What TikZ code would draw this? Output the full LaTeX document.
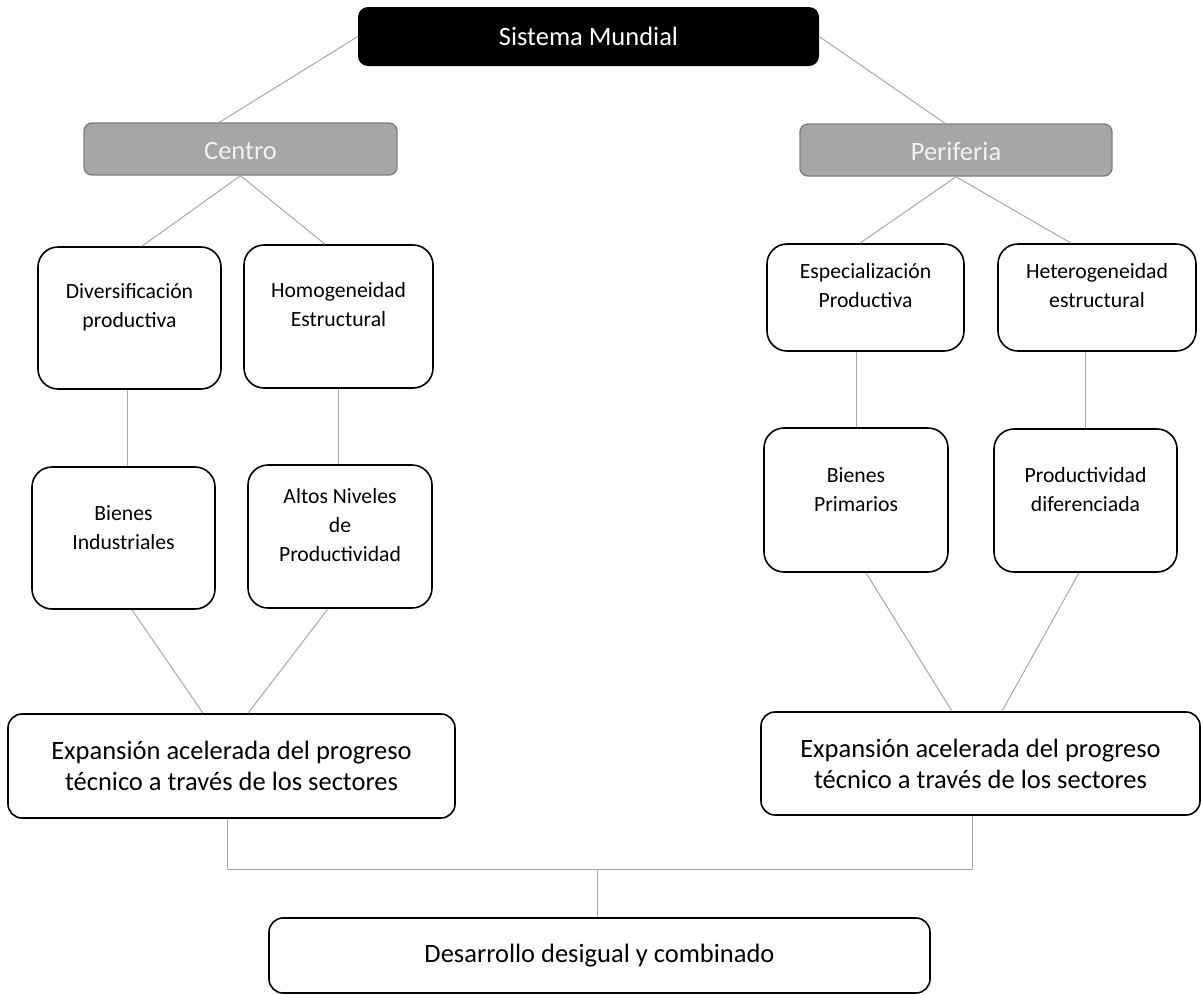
\documentclass[tikz,border=0pt]{standalone}
\usepackage{fontspec}
\setmainfont{Carlito}
\definecolor{boxgray}{RGB}{166,166,166}
\definecolor{edgegray}{RGB}{128,128,128}
\definecolor{linkgray}{RGB}{168,168,168}
\tikzset{
    cell/.style={draw,line width=1.6pt,rounded corners=20pt,align=center,inner sep=0pt,
        font=\fontsize{21.7}{29}\selectfont},
    wide/.style={draw,line width=1.6pt,rounded corners=14pt,align=center,inner sep=0pt,
        font=\fontsize{26.5}{31}\selectfont},
    head/.style={fill=boxgray,draw=edgegray,line width=1.4pt,rounded corners=8pt,inner sep=0pt,
        text=white!95!black,font=\fontsize{26.5}{31}\selectfont,text height=36pt,text depth=16pt},
    link/.style={draw=linkgray,line width=1pt},
}

\begin{document}
\begin{tikzpicture}[x=1pt,y=-1pt]
                \useasboundingbox (0,0) rectangle (1201,994);

                % Top levels
                \node[fill=black,text=white,rounded corners=10pt,minimum width=461pt,minimum height=59pt,
                      font=\fontsize{26.5}{31}\selectfont] (sistema) at (588.5,36.5) {Sistema Mundial};
                \node[head,minimum width=313pt] (centro) at (240.5,149) {Centro};
                \node[head,minimum width=312pt] (periferia) at (956,150) {Periferia};

                % Centro branch
                \node[cell,minimum width=183pt,text height=80pt,text depth=62pt] (divers) at (129.5,318) {Diversificación\\productiva};
                \node[cell,minimum width=189pt,text height=81pt,text depth=62pt] (homog) at (338.5,316.5) {Homogeneidad\\Estructural};
                \node[cell,minimum width=183pt,text height=82pt,text depth=60pt] (bind) at (123.5,538) {Bienes\\Industriales};
                \node[cell,minimum width=184pt,text height=96pt,text depth=47pt] (altos) at (340,536.5) {Altos Niveles\\de\\Productividad};

                % Periferia branch
                \node[cell,minimum width=197pt,text height=63pt,text depth=44pt] (espec) at (865.5,297.5) {Especialización\\Productiva};
                \node[cell,minimum width=198pt,text height=63pt,text depth=44pt] (heter) at (1097,297.5) {Heterogeneidad\\estructural};
                \node[cell,minimum width=184pt,text height=83pt,text depth=61pt] (bprim) at (856,500) {Bienes\\Primarios};
                \node[cell,minimum width=183pt,text height=82pt,text depth=61pt] (prodif) at (1085.5,500.5) {Productividad\\diferenciada};

                % Results
                \node[wide,minimum width=447pt,minimum height=104pt] (expl) at (231.5,766) {Expansión acelerada del progreso\\técnico a través de los sectores};
                \node[wide,minimum width=439pt,minimum height=103pt] (expr) at (980.5,763.5) {Expansión acelerada del progreso\\técnico a través de los sectores};
                \node[wide,minimum width=661pt,minimum height=75pt] (desarrollo) at (599.5,955.5) {Desarrollo desigual y combinado};

                % Connections
                \draw[link] (sistema.west) -- ([xshift=-21pt]centro.north);
                \draw[link] (sistema.east) -- ([xshift=-11pt]periferia.north);
                \draw[link] (centro.south) -- ([xshift=12.5pt]divers.north);
                \draw[link] (centro.south) -- ([xshift=-13.5pt]homog.north);
                \draw[link] (periferia.south) -- ([xshift=-5.5pt]espec.north);
                \draw[link] (periferia.south) -- ([xshift=-26pt]heter.north);
                \draw[link] ([xshift=-2.5pt]divers.south) -- ([xshift=-2.5pt]divers.south |- bind.north);
                \draw[link] (homog.south) -- (homog.south |- altos.north);
                \draw[link] (espec.south -| bprim.north) -- (bprim.north);
                \draw[link] (heter.south -| prodif.north) -- (prodif.north);
                \draw[link] ([xshift=8.5pt]bind.south) -- ([xshift=-28.5pt]expl.north);
                \draw[link] ([xshift=-12pt]altos.south) -- ([xshift=16.5pt]expl.north);
                \draw[link] ([xshift=10pt]bprim.south) -- ([xshift=-28.5pt]expr.north);
                \draw[link] ([xshift=-6.5pt]prodif.south) -- ([xshift=21.5pt]expr.north);
                \coordinate (join) at (597,869);
                \draw[link] ([xshift=-4.5pt]expl.south) |- (join) -| ([xshift=-8.5pt]expr.south);
                \draw[link] (join) -- (join |- desarrollo.north);
            \end{tikzpicture}
\end{document}
